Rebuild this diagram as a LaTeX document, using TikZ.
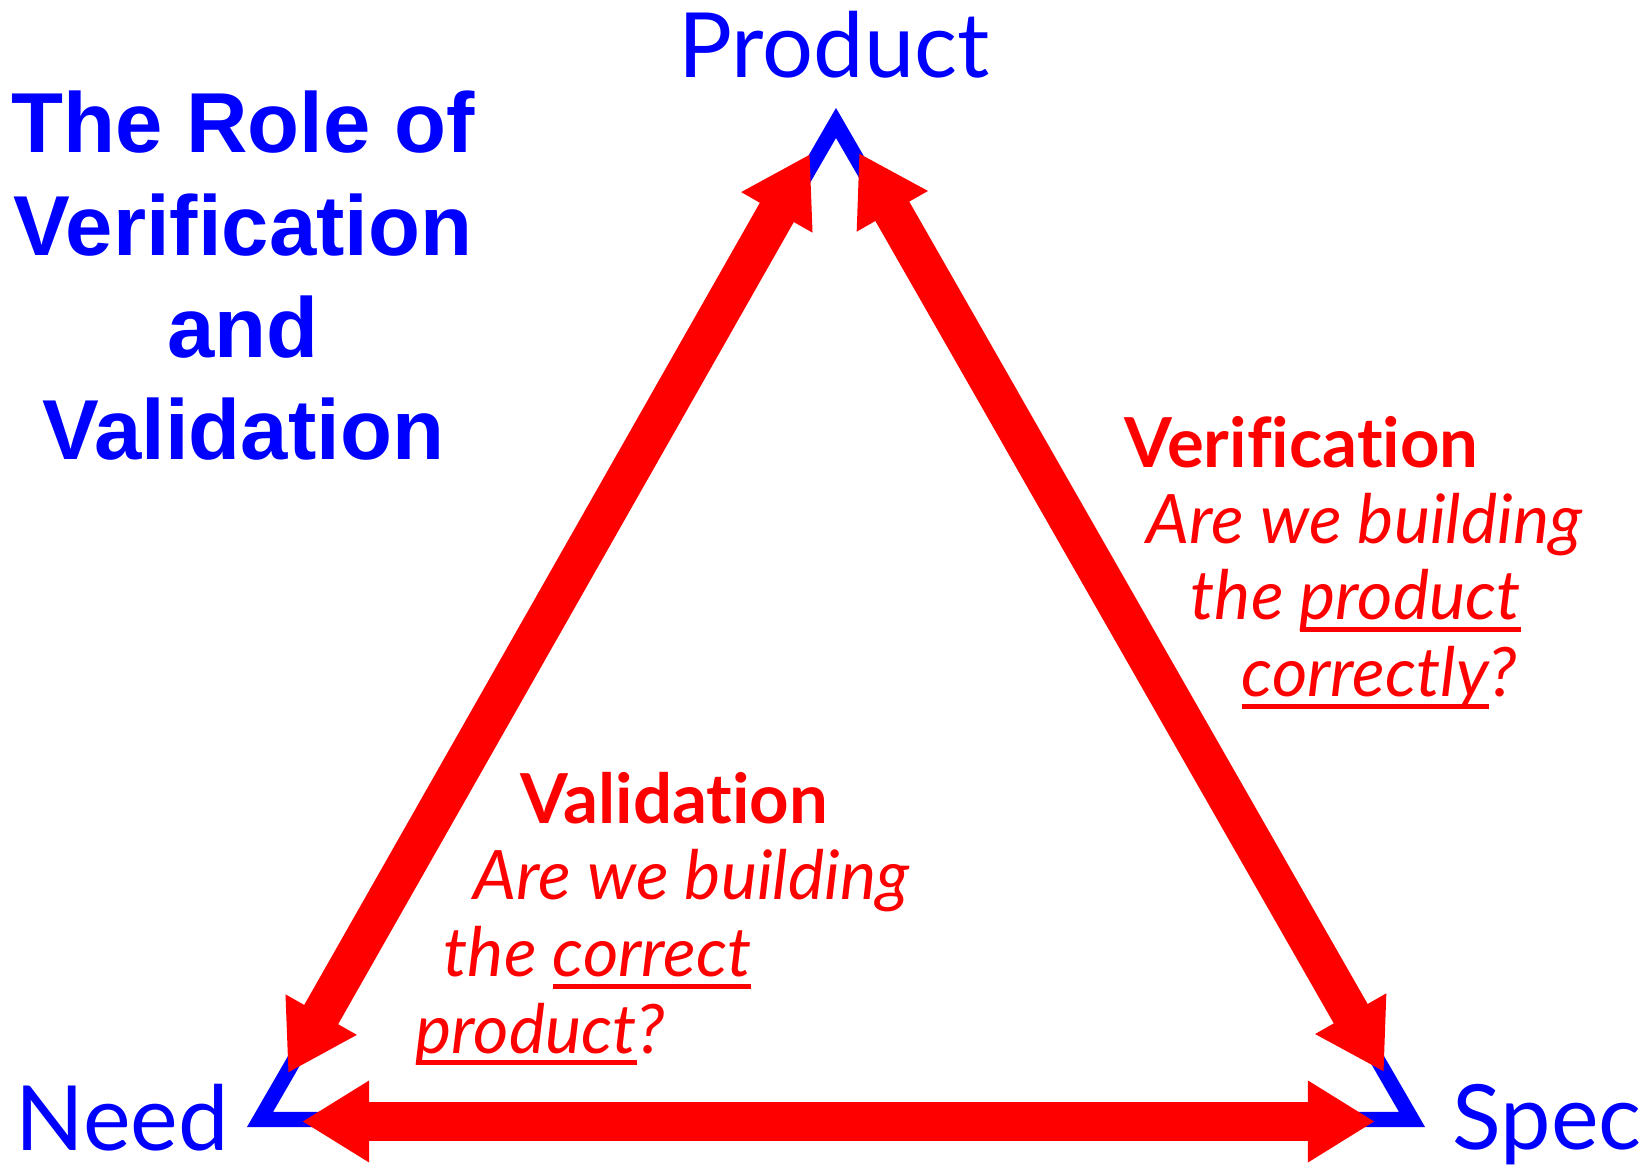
\documentclass[tikz,border=0pt]{standalone}
\usepackage{fontspec}
\setmainfont[Ligatures=NoCommon]{Liberation Sans}
\newfontfamily\comic[Ligatures=NoCommon]{Lato}
\usetikzlibrary{arrows.meta}
\definecolor{vvblue}{RGB}{0,0,255}
\definecolor{vvred}{RGB}{255,0,0}
\newcommand{\und}[1]{\setbox0\hbox{#1}\rlap{\rule[-3.5pt]{\wd0}{1.4pt}}\box0}

\tikzset{
  corner/.style={vvblue,inner sep=0pt,font=\comic\fontsize{25.6}{30}\selectfont},
  title/.style={vvblue,inner sep=0pt,anchor=base,font=\bfseries\fontsize{24.2}{29}\selectfont},
  head/.style={vvred,inner sep=0pt,anchor=base west,font=\comic\bfseries\fontsize{19.6}{24}\selectfont},
  ask/.style={vvred,inner sep=0pt,anchor=base west,font=\comic\itshape\fontsize{19.4}{23}\selectfont},
  vv/.style={vvred,line width=11.1pt,
    {Triangle[length=19.1pt,width=21.9pt]}-{Triangle[length=19.1pt,width=21.9pt]}}
}

\begin{document}
\begin{tikzpicture}[x=0.01cm,y=-0.01cm]
     \useasboundingbox (0,0) rectangle (1652,1174);
     % corners of the triangle
     \coordinate (P) at (836,123);
     \coordinate (N) at (260,1119.5);
     \coordinate (S) at (1412,1119.5);
     \draw[vvblue,line width=4.27pt] (P) -- (N) -- (S) -- cycle;
     % ends of the arrows
     \coordinate (lt) at (810,154);
     \coordinate (lb) at (288,1073);
     \coordinate (rt) at (859,153);
     \coordinate (rb) at (1384,1072);
     \coordinate (bl) at (302,1121.5);
     \coordinate (br) at (1375,1121.5);
     \draw[vv] (lt) -- (lb);
     \draw[vv] (rt) -- (rb);
     \draw[vv] (bl) -- (br);
     % labels
     \node[corner,anchor=base] (prod) at (834,78) {Product};
     \node[corner,anchor=base west] (need) at (15,1150) {Need};
     \node[corner,anchor=base west] (spec) at (1452,1149) {Spec};
     \node[title] (t1) at (243,153) {The Role of};
     \node[title] (t2) at (243,256) {Verification};
     \node[title] (t3) at (243,358) {and};
     \node[title] (t4) at (243,460) {Validation};
     \node[head] (ver) at (1124,468) {Verification};
     \node[ask] (ver1) at (1146,544) {Are we building};
     \node[ask] (ver2) at (1190,620) {the \und{product}};
     \node[ask] (ver3) at (1241,697) {\und{correctly}?};
     \node[head] (val) at (520,824) {Validation};
     \node[ask] (val1) at (473,900) {Are we building};
     \node[ask] (val2) at (443,977) {the \und{correct}};
     \node[ask] (val3) at (415,1053) {\und{product}?};
\end{tikzpicture}
\end{document}
